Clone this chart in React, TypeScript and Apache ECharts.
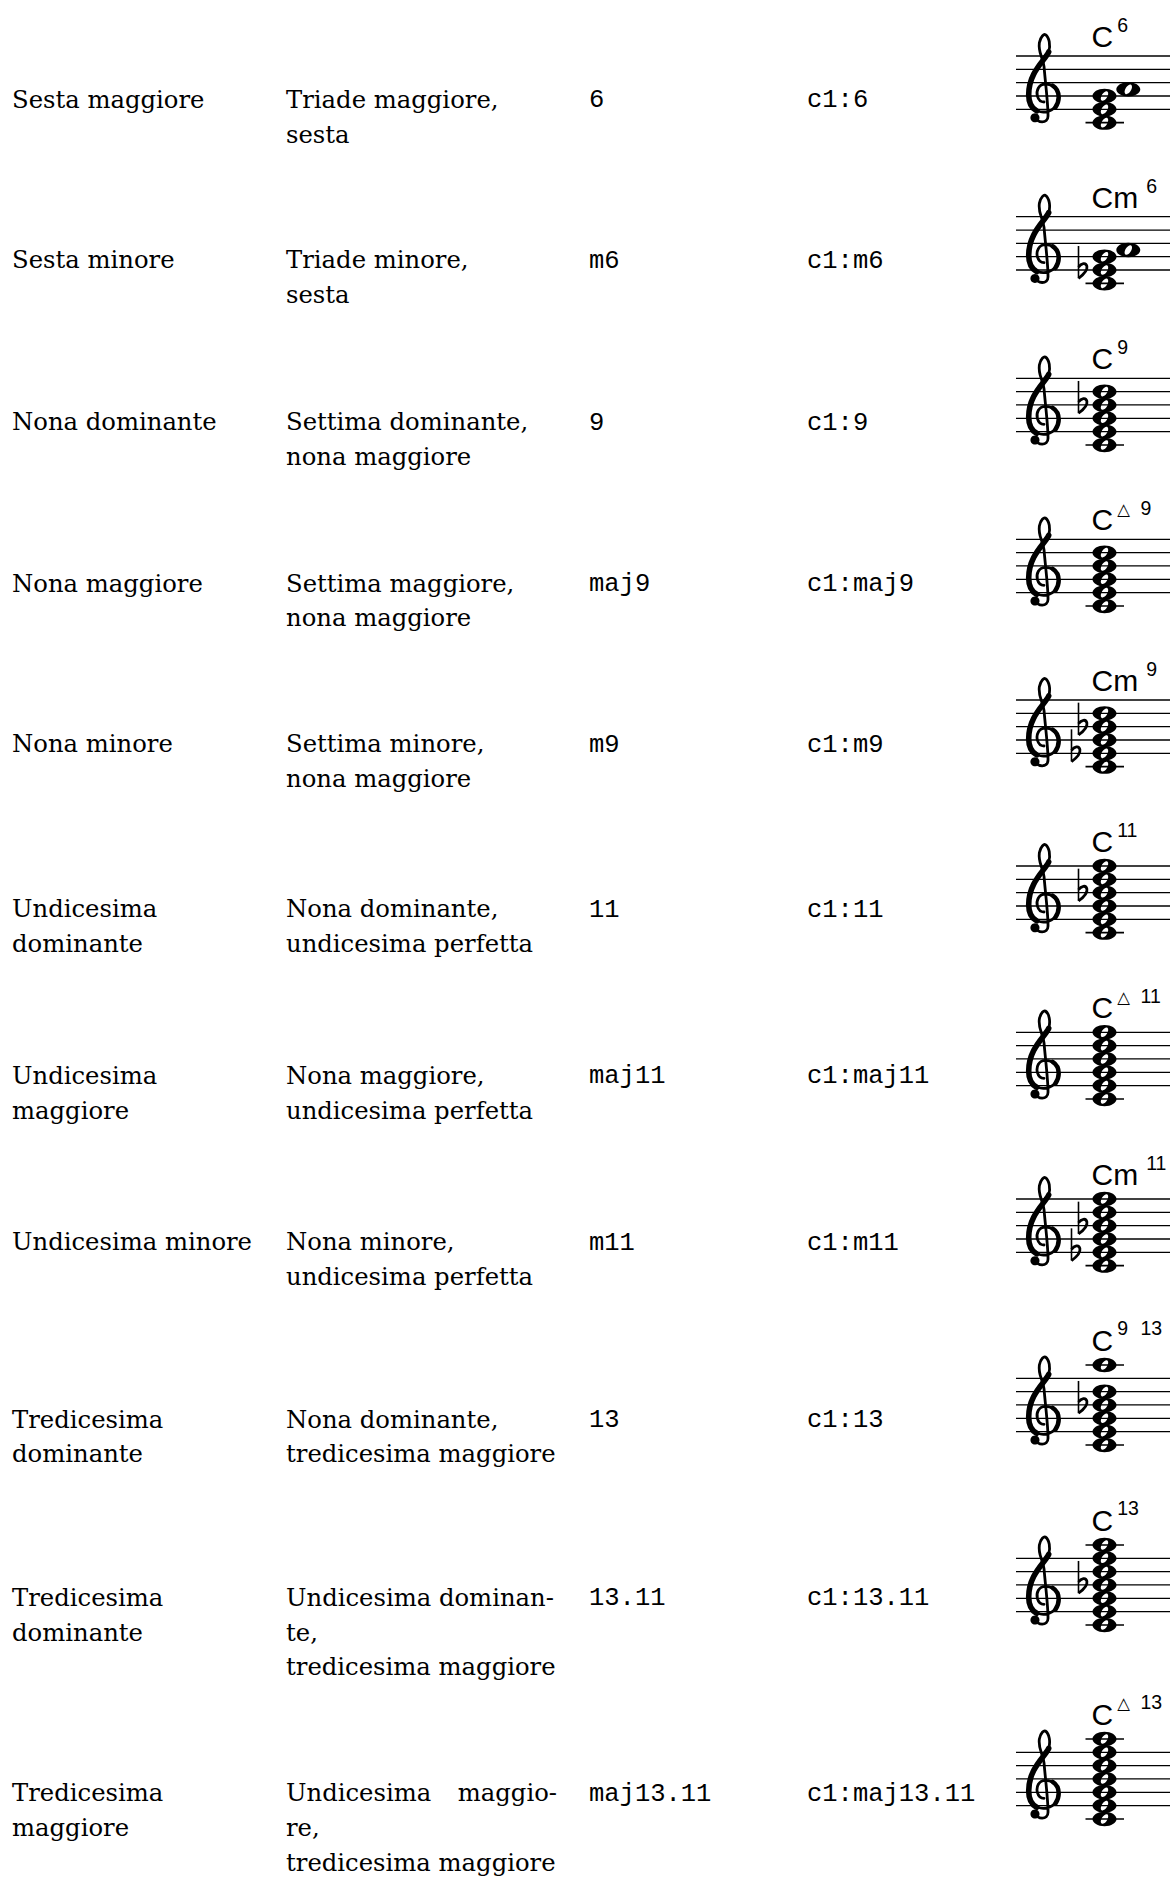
import React, { useEffect, useRef } from "react";
import * as echarts from "echarts";

// ---------------- data ----------------
const chordNames: string[][] = [
  ["Sesta maggiore"],
  ["Sesta minore"],
  ["Nona dominante"],
  ["Nona maggiore"],
  ["Nona minore"],
  ["Undicesima", "dominante"],
  ["Undicesima", "maggiore"],
  ["Undicesima minore"],
  ["Tredicesima", "dominante"],
  ["Tredicesima", "dominante"],
  ["Tredicesima", "maggiore"],
];
const chordDescriptions: string[][] = [
  ["Triade maggiore,", "sesta"],
  ["Triade minore,", "sesta"],
  ["Settima dominante,", "nona maggiore"],
  ["Settima maggiore,", "nona maggiore"],
  ["Settima minore,", "nona maggiore"],
  ["Nona dominante,", "undicesima perfetta"],
  ["Nona maggiore,", "undicesima perfetta"],
  ["Nona minore,", "undicesima perfetta"],
  ["Nona dominante,", "tredicesima maggiore"],
  ["Undicesima dominan-", "te,", "tredicesima maggiore"],
  ["Undicesima\tmaggio-", "re,", "tredicesima maggiore"],
];
const modifiers = ["6", "m6", "9", "maj9", "m9", "11", "maj11", "m11", "13", "13.11", "maj13.11"];
const chordModeInputs = ["c1:6", "c1:m6", "c1:9", "c1:maj9", "c1:m9", "c1:11", "c1:maj11", "c1:m11", "c1:13", "c1:13.11", "c1:maj13.11"];
const symbolRoots = ["C", "Cm", "C", "C", "Cm", "C", "C", "Cm", "C", "C", "C"];
const symbolSups: string[][] = [["6"], ["6"], ["9"], ["△", "9"], ["9"], ["11"], ["△", "11"], ["11"], ["9", "13"], ["13"], ["△", "13"]];
// diatonic steps above middle C (C4 = 0, E4 = 2, G4 = 4, ...)
const noteSteps: number[][] = [
  [0, 2, 4, 5],
  [0, 2, 4, 5],
  [0, 2, 4, 6, 8],
  [0, 2, 4, 6, 8],
  [0, 2, 4, 6, 8],
  [0, 2, 4, 6, 8, 10],
  [0, 2, 4, 6, 8, 10],
  [0, 2, 4, 6, 8, 10],
  [0, 2, 4, 6, 8, 12],
  [0, 2, 4, 6, 8, 10, 12],
  [0, 2, 4, 6, 8, 10, 12],
];
const flatSteps: number[][] = [[], [2], [6], [], [2, 6], [6], [], [2, 6], [6], [6], []];

// ---------------- layout ----------------
const W = 1170;
const H = 1877;
const rowTextY = [99.4, 259.9, 421.5, 583.2, 743.6, 908.9, 1075.4, 1241.9, 1419.1, 1597.4, 1792.7];
const staffTops = [56, 216.7, 378.3, 539.3, 700, 866, 1032.3, 1199, 1378.3, 1558.3, 1752.3];
const COL_X = [12, 286, 589, 807];
const COL2_RIGHT = 557;
const LINE_H = 34.7;
const SP = 13.33;
const STAFF_X0 = 1016;
const STAFF_X1 = 1170;
const CLEF_X = 1026.7;
const NOTE_X = 1104.5;
const NOTE_SHIFT = 23.8;
const FLAT_X = 1078.5;
const FLAT_SHIFT = 7;
const SYM_X = 1091.5;
const SUP2_X = 1140.5;
const SERIF = "DejaVu Serif";
const SERIF_SIZE = 24.3;
const MONO = "Liberation Mono";
const MONO_SIZE = 25.5;
const MONO_DY = 1.5;
const SANS = "Liberation Sans";
const ROOT_SIZE = 30;
const SUP_SIZE = 19.5;

// ---------------- glyph shapes ----------------
function ellipsePath(rx: number, ry: number, angDeg: number, reverse: boolean): string {
  const k = 0.5523;
  const a = (angDeg * Math.PI) / 180;
  const c = Math.cos(a);
  const s = Math.sin(a);
  const sg = reverse ? -1 : 1;
  const P = (x: number, y: number) => {
    const yy = y * sg;
    return `${(x * c - yy * s).toFixed(3)} ${(x * s + yy * c).toFixed(3)}`;
  };
  return (
    `M ${P(rx, 0)} ` +
    `C ${P(rx, k * ry)} ${P(k * rx, ry)} ${P(0, ry)} ` +
    `C ${P(-k * rx, ry)} ${P(-rx, k * ry)} ${P(-rx, 0)} ` +
    `C ${P(-rx, -k * ry)} ${P(-k * rx, -ry)} ${P(0, -ry)} ` +
    `C ${P(k * rx, -ry)} ${P(rx, -k * ry)} ${P(rx, 0)} Z`
  );
}

const CLEF_THIN =
  "M 6.5 15.5 C 7.5 20.5 16 21 16 15 C 16 5 14 -10 13 -22 C 12 -30 8.5 -32 9.5 -40 C 10.5 -45 13 -46.5 14 -46 " +
  "C 17 -44 18 -38 16.5 -33 C 14 -27 1.5 -18 1.5 -1 C 1.5 7 6.5 12 12.5 12 C 19 12 24 7 24 1 " +
  "C 24 -5 19.5 -9 14 -9 C 9 -9 7 -4 8 0 C 8.8 3 11 4.5 13 4.5";
const CLEF_THICK = "M 16.5 -33 C 14 -27 1.5 -18 1.5 -1 C 1.5 4 3.5 9 7.5 11.2";
const CLEF_RIGHT = "M 21.5 8.5 C 23.3 6 24 3.5 24 1 C 24 -3 22.5 -6 19.5 -7.8";
const FLAT_STEM = "M 0 -18 L 0 6.2";
const FLAT_BOWL = "M 0 6.2 C 3 4 7 0.5 6.3 -2.8 C 5.6 -6 2 -5 0 -2.2";
const NOTE_PATH = ellipsePath(12, 7.2, 0, false) + " " + ellipsePath(5.4, 2.8, -58, true);

let registered = false;
function registerGlyphs() {
  if (registered) return;
  registered = true;
  const g: any = echarts.graphic;
  g.registerShape("gclefThin", g.extendPath(CLEF_THIN, {}));
  g.registerShape("gclefThick", g.extendPath(CLEF_THICK, {}));
  g.registerShape("gclefRight", g.extendPath(CLEF_RIGHT, {}));
  g.registerShape("flatStem", g.extendPath(FLAT_STEM, {}));
  g.registerShape("flatBowl", g.extendPath(FLAT_BOWL, {}));
  g.registerShape("wholeNote", g.extendPath(NOTE_PATH, {}));
}

function stepY(top: number, step: number) {
  return top + 4 * SP - ((step - 2) * SP) / 2;
}

function txt(x: number, y: number, text: string, family: string, size: number, align = "left") {
  return {
    type: "text",
    x,
    y,
    style: {
      text,
      fontFamily: family,
      fontSize: size,
      fill: "#000",
      textAlign: align,
      textVerticalAlign: "middle",
      verticalAlign: "middle",
    },
  };
}

function buildElements(): any[] {
  const els: any[] = [];
  const ctx = document.createElement("canvas").getContext("2d") as CanvasRenderingContext2D;
  const measure = (t: string, font: string) => {
    ctx.font = font;
    return ctx.measureText(t).width;
  };
  const u = SP / 10;

  for (let i = 0; i < chordNames.length; i++) {
    const ty = rowTextY[i];
    chordNames[i].forEach((t, k) => els.push(txt(COL_X[0], ty + k * LINE_H, t, SERIF, SERIF_SIZE)));
    chordDescriptions[i].forEach((t, k) => {
      const y = ty + k * LINE_H;
      if (t.includes("\t")) {
        const [a, b] = t.split("\t");
        els.push(txt(COL_X[1], y, a, SERIF, SERIF_SIZE));
        els.push(txt(COL2_RIGHT, y, b, SERIF, SERIF_SIZE, "right"));
      } else {
        els.push(txt(COL_X[1], y, t, SERIF, SERIF_SIZE));
      }
    });
    els.push(txt(COL_X[2], ty + MONO_DY, modifiers[i], MONO, MONO_SIZE));
    els.push(txt(COL_X[3], ty + MONO_DY, chordModeInputs[i], MONO, MONO_SIZE));

    // staff
    const top = staffTops[i];
    for (let l = 0; l < 5; l++) {
      const y = top + l * SP;
      els.push({ type: "line", shape: { x1: STAFF_X0, y1: y, x2: STAFF_X1, y2: y }, style: { stroke: "#000", lineWidth: 1.3 } });
    }

    // clef
    const gy = top + 3 * SP;
    els.push({ type: "gclefThin", x: CLEF_X, y: gy, scaleX: u, scaleY: u, style: { stroke: "#000", fill: "none", lineWidth: 2.1, lineCap: "round" } });
    els.push({ type: "gclefThick", x: CLEF_X, y: gy, scaleX: u, scaleY: u, style: { stroke: "#000", fill: "none", lineWidth: 4.2, lineCap: "round" } });
    els.push({ type: "gclefRight", x: CLEF_X, y: gy, scaleX: u, scaleY: u, style: { stroke: "#000", fill: "none", lineWidth: 3.4, lineCap: "round" } });
    els.push({ type: "circle", shape: { cx: CLEF_X + 6.2 * u, cy: gy + 16.3 * u, r: 3.4 * u }, style: { fill: "#000" } });

    // notes
    const steps = noteSteps[i];
    let prevStep = -99;
    let prevShift = false;
    steps.forEach((st) => {
      const shifted = st - prevStep === 1 && !prevShift;
      const nx = NOTE_X + (shifted ? NOTE_SHIFT : 0);
      const ny = stepY(top, st);
      // ledger lines
      if (st <= 0) {
        for (let ls = 0; ls >= st; ls -= 2) {
          const ly = stepY(top, ls);
          els.push({ type: "line", shape: { x1: nx - 19, y1: ly, x2: nx + 19.5, y2: ly }, style: { stroke: "#000", lineWidth: 1.6 } });
        }
      }
      if (st >= 12) {
        for (let ls = 12; ls <= st; ls += 2) {
          const ly = stepY(top, ls);
          els.push({ type: "line", shape: { x1: nx - 19, y1: ly, x2: nx + 19.5, y2: ly }, style: { stroke: "#000", lineWidth: 1.6 } });
        }
      }
      els.push({ type: "wholeNote", x: nx, y: ny, style: { fill: "#000", stroke: "none" } });
      prevShift = shifted;
      prevStep = st;
    });

    // flats (top-down, shifting left when crowded)
    const fl = [...flatSteps[i]].sort((a, b) => b - a);
    let prevF = 99;
    let col = 0;
    fl.forEach((st) => {
      if (prevF - st < 6) col += 1;
      else col = 0;
      const fx = FLAT_X - col * FLAT_SHIFT;
      const fy = stepY(top, st);
      els.push({ type: "flatStem", x: fx, y: fy, scaleX: u, scaleY: u, style: { stroke: "#000", fill: "none", lineWidth: 1.2 } });
      els.push({ type: "flatBowl", x: fx, y: fy, scaleX: u, scaleY: u, style: { stroke: "#000", fill: "none", lineWidth: 2.1 } });
      prevF = st;
    });

    // chord symbol
    const topStep = steps[steps.length - 1];
    const noteTopEdge = stepY(top, topStep) - 7;
    const baseline = Math.min(top - 9, noteTopEdge - 7.5);
    const root = symbolRoots[i];
    els.push({
      type: "text",
      x: SYM_X,
      y: baseline - 0.3465 * ROOT_SIZE,
      style: { text: root, fontFamily: SANS, fontSize: ROOT_SIZE, fill: "#000", textVerticalAlign: "middle", verticalAlign: "middle" },
    });
    const rootW = measure(root, `${ROOT_SIZE}px "${SANS}"`);
    const sups = symbolSups[i];
    sups.forEach((s, k) => {
      const sx = k === 0 ? SYM_X + rootW + (root.length > 1 ? 8 : 4) : SUP2_X;
      const isTri = s === "△";
      els.push({
        type: "text",
        x: sx,
        y: baseline - (isTri ? 20.5 : 22),
        style: {
          text: s,
          fontFamily: isTri ? "DejaVu Sans" : SANS,
          fontSize: isTri ? 16.5 : SUP_SIZE,
          fill: "#000",
          textVerticalAlign: "middle",
          verticalAlign: "middle",
        },
      });
    });
  }
  return els;
}

export default function App() {
  const ref = useRef<HTMLDivElement>(null);
  useEffect(() => {
    if (!ref.current) return;
    registerGlyphs();
    const chart = echarts.init(ref.current, undefined, { renderer: "svg", width: W, height: H });
    chart.setOption({
      animation: false,
      backgroundColor: "#fff",
      graphic: { elements: buildElements() },
    });
    return () => chart.dispose();
  }, []);
  return <div ref={ref} style={{ position: "absolute", left: 0, top: 0, width: W, height: H }} />;
}
